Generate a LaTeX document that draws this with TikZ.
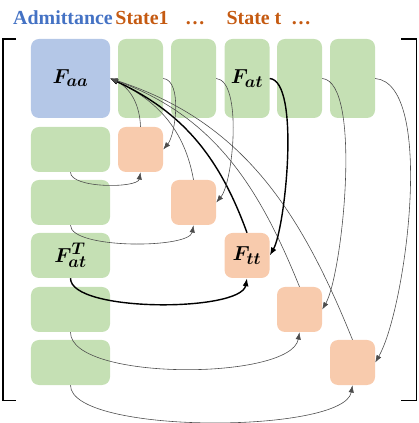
\documentclass[tikz,border=0pt]{standalone}
\usepackage{fontspec}
\setmainfont{Liberation Serif}
\usepackage{bm}
\usetikzlibrary{arrows.meta}

\definecolor{admblue}{HTML}{B4C7E7}
\definecolor{offgreen}{HTML}{C5E0B4}
\definecolor{diagorange}{HTML}{F8CBAD}
\definecolor{admtext}{HTML}{4472C4}
\definecolor{statetext}{HTML}{C55A11}

\tikzset{
  blk/.style={rounded corners=0.24cm, inner sep=0pt, font=\fontsize{19}{22}\selectfont},
  admbox/.style={blk, fill=admblue, minimum width=2.37cm, minimum height=2.37cm},
  topbox/.style={blk, fill=offgreen, minimum width=1.35cm, minimum height=2.37cm},
  leftbox/.style={blk, fill=offgreen, minimum width=2.37cm, minimum height=1.35cm},
  diagbox/.style={blk, fill=diagorange, minimum width=1.35cm, minimum height=1.35cm},
  head/.style={font=\fontsize{17}{20}\selectfont\bfseries, anchor=base},
  link/.style={draw=black!70, line width=0.5pt, -{Latex[length=2.2mm,width=1.6mm]}},
  mainlink/.style={draw=black, line width=1.2pt, -{Latex[length=2.4mm,width=1.8mm]}}
}

\begin{document}
\begin{tikzpicture}[x=0.03cm,y=0.03cm]
\useasboundingbox (0,0) rectangle (418,423);

% column headers
\node[head, text=admtext] (hadm) at (63,398) {Admittance};
\node[head, text=statetext] (hs1) at (142,398) {State1};
\node[head, text=statetext] (hd1) at (195,398) {…};
\node[head, text=statetext] (hst) at (254,398) {State t};
\node[head, text=statetext] (hd2) at (301,398) {…};

% brackets
\draw[line width=1.1pt] (16,384) -- (3,384) -- (3,22.5) -- (16,22.5);
\draw[line width=1.1pt] (401,384) -- (416.5,384) -- (416.5,22.5) -- (401,22.5);

% top row
\node[admbox] (faa) at (70.5,344.5) {$\bm{F_{aa}}$};
\node[topbox] (g1) at (140.5,344.5) {};
\node[topbox] (g2) at (193.5,344.5) {};
\node[topbox] (g3) at (247,344.5) {$\bm{F_{at}}$};
\node[topbox] (g4) at (299.5,344.5) {};
\node[topbox] (g5) at (352.5,344.5) {};

% left column
\node[leftbox] (l1) at (70.5,273.5) {};
\node[leftbox] (l2) at (70.5,220.5) {};
\node[leftbox] (l3) at (70.5,167.5) {$\bm{F_{at}^{T}}$};
\node[leftbox] (l4) at (70.5,113.5) {};
\node[leftbox] (l5) at (70.5,60.5) {};

% diagonal
\node[diagbox] (d1) at (140.5,273.5) {};
\node[diagbox] (d2) at (193.5,220.5) {};
\node[diagbox] (d3) at (247,167.5) {$\bm{F_{tt}}$};
\node[diagbox] (d4) at (299.5,113.5) {};
\node[diagbox] (d5) at (352.5,60.5) {};

% diagonal blocks back to admittance
\draw[link] (d1.north) to[out=92,in=-25] (faa.east);
\draw[link] (d2.north) to[out=100,in=-25] (faa.east);
\draw[mainlink] (d3.north) to[out=110,in=-25] (faa.east);
\draw[link] (d4.north) to[out=112,in=-20] (faa.east);
\draw[link] (d5.north) to[out=112,in=-18] (faa.east);

% top row down to diagonal
\draw[link] (g1.east) to[out=-5,in=50,looseness=0.7] (d1.east);
\draw[link] (g2.east) to[out=-5,in=50,looseness=0.55] (d2.east);
\draw[mainlink] (g3.east) to[out=-5,in=60,looseness=0.45] (d3.east);
\draw[link] (g4.east) to[out=-5,in=60,looseness=0.45] (d4.east);
\draw[link] (g5.east) to[out=-5,in=60,looseness=0.55] (d5.east);

% left column across to diagonal
\draw[link] (l1.south) to[out=-90,in=-100,looseness=0.6] (d1.south);
\draw[link] (l2.south) to[out=-90,in=-100,looseness=0.5] (d2.south);
\draw[mainlink] (l3.south) to[out=-90,in=-100,looseness=0.5] (d3.south);
\draw[link] (l4.south) to[out=-90,in=-100,looseness=0.55] (d4.south);
\draw[link] (l5.south) to[out=-90,in=-100,looseness=0.45] (d5.south);
\end{tikzpicture}
\end{document}
